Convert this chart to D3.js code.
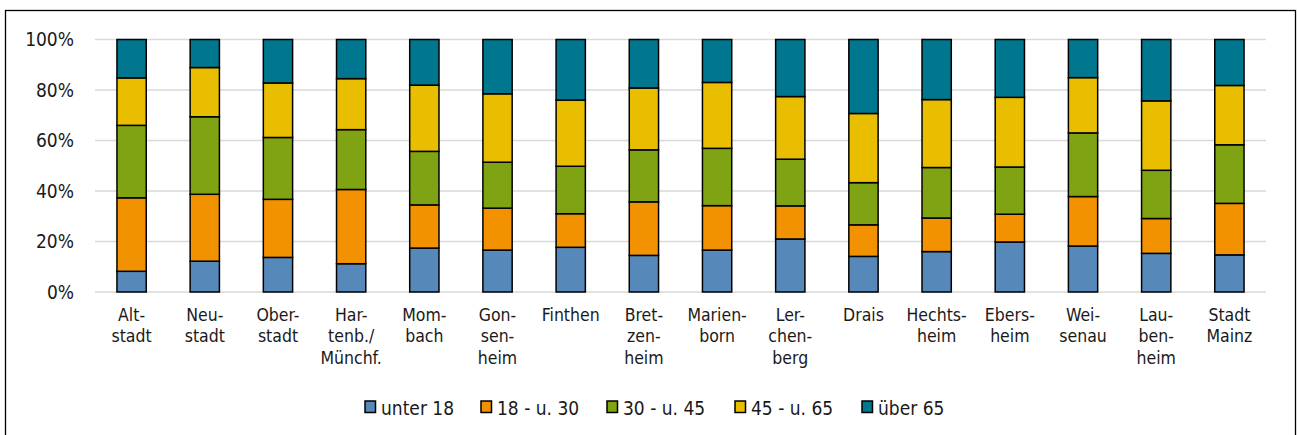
<!DOCTYPE html>
<html>
<head>
<meta charset="utf-8">
<title>Altersstruktur Mainz</title>
<script src="https://cdn.jsdelivr.net/npm/d3@7"></script>
<style>
  body { margin: 0; background: #fff; }
  text { font-family: "DejaVu Sans Condensed", "Roboto", sans-serif; fill: #1a1a1a; }
</style>
</head>
<body>
<div class="chart"></div>
<script>
// Stadtteile (line breaks as in the original labels)
var districts = [
  ["Alt-", "stadt"], ["Neu-", "stadt"], ["Ober-", "stadt"], ["Har-", "tenb./", "Münchf."],
  ["Mom-", "bach"], ["Gon-", "sen-", "heim"], ["Finthen"], ["Bret-", "zen-", "heim"],
  ["Marien-", "born"], ["Ler-", "chen-", "berg"], ["Drais"], ["Hechts-", "heim"],
  ["Ebers-", "heim"], ["Wei-", "senau"], ["Lau-", "ben-", "heim"], ["Stadt", "Mainz"]
];
var groups = ["unter 18", "18 - u. 30", "30 - u. 45", "45 - u. 65", "über 65"];
var colors = ["#5689B9", "#F39200", "#80A313", "#E9BE00", "#00778F"];

// shares in percent, per age group
var under18  = [8.2, 12.2, 13.7, 11.2, 17.4, 16.6, 17.7, 14.5, 16.6, 21.0, 14.1, 16.0, 19.8, 18.2, 15.3, 14.7];
var age18_30 = [29.1, 26.5, 23.0, 29.4, 17.1, 16.6, 13.3, 21.2, 17.6, 13.1, 12.5, 13.3, 11.0, 19.6, 13.8, 20.4];
var age30_45 = [28.7, 30.7, 24.5, 23.7, 21.2, 18.2, 18.8, 20.6, 22.7, 18.5, 16.7, 20.0, 18.7, 25.2, 19.1, 23.2];
var age45_65 = [18.8, 19.5, 21.6, 20.2, 26.2, 27.1, 26.2, 24.5, 26.1, 24.8, 27.4, 26.9, 27.6, 21.9, 27.5, 23.5];
var over65   = [15.2, 11.1, 17.2, 15.5, 18.1, 21.5, 24.0, 19.2, 17.0, 22.6, 29.3, 23.8, 22.9, 15.1, 24.3, 18.2];
var yTicks = [0, 20, 40, 60, 80, 100];

var width = 1298, height = 435;
var series = [under18, age18_30, age30_45, age45_65, over65];

var rows = districts.map(function(d, i){
  var r = { key: i };
  groups.forEach(function(g, j){ r[g] = series[j][i]; });
  return r;
});
var stacked = d3.stack().keys(groups)(rows);

var svg = d3.select(".chart").append("svg")
  .attr("width", width)
  .attr("height", height);

// frame (bottom edge lies below the picture)
svg.append("rect")
  .attr("x", 5.5).attr("y", 10.5)
  .attr("width", 1290).attr("height", 440)
  .attr("fill", "none").attr("stroke", "#000").attr("stroke-width", 1.3);

var x = d3.scaleBand().domain(d3.range(districts.length)).range([95, 1266]).paddingInner(0.6).paddingOuter(0.3);
var y = d3.scaleLinear().domain([0, 100]).range([292, 39.5]);

// gridlines
svg.append("g").selectAll("line")
  .data(yTicks).enter().append("line")
  .attr("x1", 95).attr("x2", 1266)
  .attr("y1", function(d){ return y(d); })
  .attr("y2", function(d){ return y(d); })
  .attr("stroke", "#d9d9d9").attr("stroke-width", 1.3);

// y axis labels
var yAxis = d3.axisLeft(y).tickValues(yTicks).tickSize(0).tickPadding(0)
  .tickFormat(function(d){ return d + "%"; });
var ga = svg.append("g").attr("transform", "translate(74,0)").call(yAxis);
ga.select(".domain").remove();
ga.attr("font-family", null).attr("font-size", null);
ga.selectAll("text").attr("font-size", 19).attr("fill", "#1a1a1a");

// bars
svg.append("g").selectAll("g")
  .data(stacked).enter().append("g")
  .attr("fill", function(d, i){ return colors[i]; })
  .selectAll("rect")
  .data(function(d){ return d; }).enter().append("rect")
  .attr("x", function(d){ return x(d.data.key); })
  .attr("width", x.bandwidth())
  .attr("y", function(d){ return y(d[1]); })
  .attr("height", function(d){ return y(d[0]) - y(d[1]); })
  .attr("stroke", "#000").attr("stroke-width", 1.5);

// category labels
var labels = svg.append("g").selectAll("text")
  .data(districts).enter().append("text")
  .attr("text-anchor", "middle")
  .attr("font-size", 17.5)
  .attr("x", function(d, i){ return x(i) + x.bandwidth() / 2; })
  .attr("y", 320.5);
labels.selectAll("tspan")
  .data(function(d){ return d; }).enter().append("tspan")
  .attr("x", function(){ return d3.select(this.parentNode).attr("x"); })
  .attr("dy", function(d, i){ return i === 0 ? 0 : 21.7; })
  .text(function(d){ return d; });

// legend
var legendX = [365, 481, 607, 735, 862];
var lg = svg.append("g").selectAll("g")
  .data(groups).enter().append("g")
  .attr("transform", function(d, i){ return "translate(" + legendX[i] + ",401)"; });
lg.append("rect")
  .attr("width", 10.5).attr("height", 11.5)
  .attr("fill", function(d, i){ return colors[i]; })
  .attr("stroke", "#000").attr("stroke-width", 1.5);
lg.append("text")
  .attr("x", 16).attr("y", 14.3)
  .attr("font-size", 19)
  .text(function(d){ return d; });
</script>
</body>
</html>
